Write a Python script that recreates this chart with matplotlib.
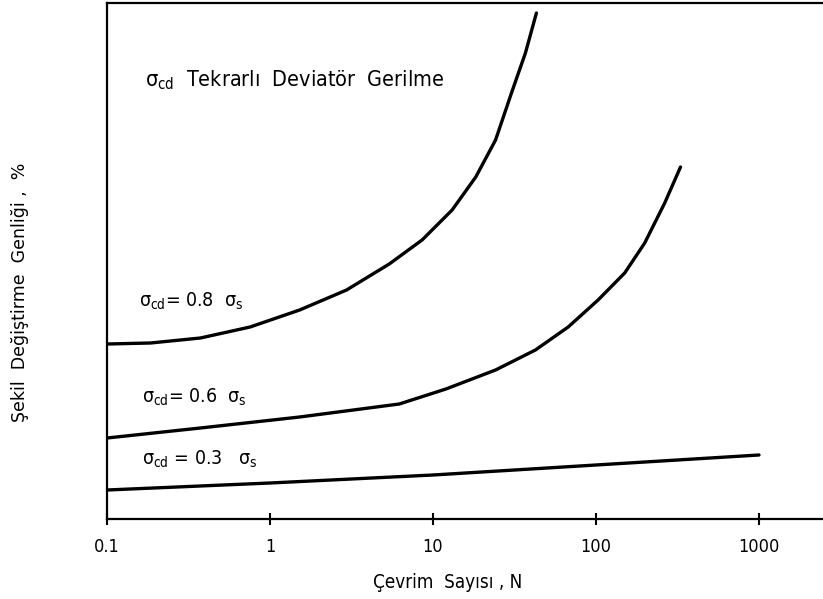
import matplotlib
matplotlib.use('Agg')
import matplotlib.pyplot as plt
from matplotlib.ticker import FixedLocator, FixedFormatter, NullLocator

plt.rcParams['font.family'] = ['DejaVu Sans']
plt.rcParams['font.stretch'] = 'condensed'
plt.rcParams['mathtext.fontset'] = 'custom'
plt.rcParams['mathtext.rm'] = 'DejaVu Sans:stretch=condensed'
plt.rcParams['mathtext.it'] = 'DejaVu Sans:stretch=condensed'

# sigma_cd = 0.8 sigma_s
n_08 = [0.1, 0.185, 0.374, 0.755, 1.52, 2.95, 5.39, 8.57, 13.1, 18.3, 24.2, 30.3, 36.9, 43.1]
e_08 = [1.75, 1.76, 1.81, 1.92, 2.09, 2.29, 2.55, 2.79, 3.09, 3.42, 3.79, 4.26, 4.66, 5.06]

# sigma_cd = 0.6 sigma_s
n_06 = [0.1, 0.374, 1.52, 6.21, 12.0, 24.2, 42.5, 67.5, 103, 150, 199, 264, 330]
e_06 = [0.81, 0.91, 1.02, 1.15, 1.30, 1.49, 1.69, 1.92, 2.19, 2.46, 2.76, 3.16, 3.52]

# sigma_cd = 0.3 sigma_s
n_03 = [0.1, 1, 10, 100, 1000]
e_03 = [0.29, 0.36, 0.44, 0.54, 0.64]

xticks = [0.1, 1, 10, 100, 1000]
xtick_labels = ['0.1', '1', '10', '100', '1000']

fig = plt.figure(figsize=(8.23, 5.99), dpi=100)
ax = fig.add_axes([107 / 823, 80 / 599, 716 / 823, 516 / 599])

for n, e in [(n_08, e_08), (n_06, e_06), (n_03, e_03)]:
    ax.plot(n, e, color='black', linewidth=2.4, solid_capstyle='round')

ax.set_xscale('log')
ax.set_xlim(0.1, 2470)
ax.set_ylim(0, 5.16)
ax.xaxis.set_major_locator(FixedLocator(xticks))
ax.xaxis.set_major_formatter(FixedFormatter(xtick_labels))
ax.xaxis.set_minor_locator(NullLocator())
ax.set_yticks([])
ax.tick_params(axis='x', direction='inout', length=8, width=1.5, labelsize=13, pad=10)
ax.spines['right'].set_visible(False)
for s in ax.spines.values():
    s.set_linewidth(1.6)

ax.text(0.172, 4.33, r'$\sigma_{cd}$  Tekrarlı  Deviatör  Gerilme', fontsize=15.5)
ax.text(0.157, 2.12, r'$\sigma_{cd}$= 0.8  $\sigma_s$', fontsize=14)
ax.text(0.165, 1.16, r'$\sigma_{cd}$= 0.6  $\sigma_s$', fontsize=14)
ax.text(0.165, 0.54, r'$\sigma_{cd}$ = 0.3   $\sigma_s$', fontsize=14)

ax.set_xlabel('Çevrim  Sayısı , N', fontsize=13.5)
ax.xaxis.set_label_coords(0.476, -0.105)
fig.text(0.024, 0.5125, 'Şekil  Değiştirme  Genliği ,  %', rotation=90,
         ha='center', va='center', fontsize=12.5, family=['DejaVu Sans'],
         stretch='normal')

fig.savefig('out.png', dpi=100)
